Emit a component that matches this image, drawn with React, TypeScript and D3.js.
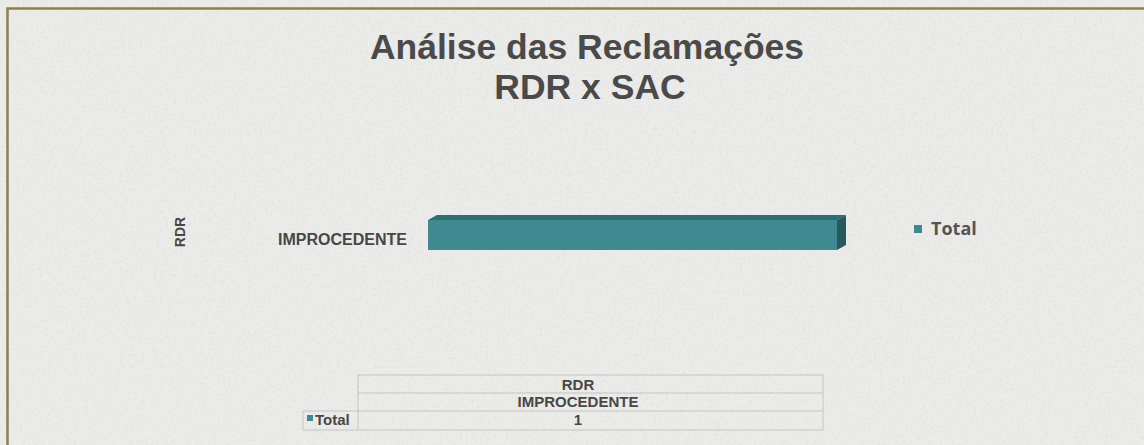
import React from "react";
import * as d3 from "d3";

const title1 = "Análise das Reclamações";
const title2 = "RDR x SAC";
const groupLabels = ["RDR"];
const categories = ["IMPROCEDENTE"];
const seriesName = "Total";
const values = [1];

const W = 1144;
const H = 445;

export default function App() {
  const x = d3.scaleLinear().domain([0, 1]).range([428, 837]);
  const y = d3.scaleBand<string>().domain(categories).range([190, 280]).paddingInner(0.3).paddingOuter(0.35);
  const depthX = 9;
  const depthY = 5;
  const bars = categories.map((c, i) => {
    const x0 = x(0);
    const x1 = x(values[i]);
    const y0 = y(c)! + (y.bandwidth() - 30) / 2;
    const h = 30;
    return { c, x0, x1, y0, h };
  });
  const tableLeft = 358;
  const tableRight = 823;
  const rowYs = [375, 393, 411, 430];
  const labelLeft = 303;
  const textColor = "#474747";
  const tcx = 578;
  return (
    <svg width={W} height={H} style={{ position: "absolute", left: 0, top: 0 }}>
      <defs>
        <filter id="paper" x="0" y="0" width="100%" height="100%">
          <feTurbulence type="fractalNoise" baseFrequency="0.35" numOctaves="3" seed="4" result="n" />
          <feColorMatrix type="matrix" values="0 0 0 0 0.55  0 0 0 0 0.55  0 0 0 0 0.55  0 0 0 -1.4 0.75" />
        </filter>
      </defs>
      <rect x={0} y={0} width={W} height={H} fill="#ebebe9" />
      <rect x={0} y={0} width={W} height={H} filter="url(#paper)" opacity={0.35} />
      {/* border */}
      <rect x={7.5} y={8.5} width={W + 20} height={H + 20} fill="none" stroke="#8d7f4f" strokeWidth={2.5} />
      <rect x={9.5} y={10.5} width={W + 20} height={H + 20} fill="none" stroke="#f2ebcf" strokeWidth={1} />
      {/* title */}
      <text x={587} y={59} textAnchor="middle" fontFamily="Liberation Sans, Arial, sans-serif" fontWeight="bold" fontSize={35.5} fill="#4a4a4a">{title1}</text>
      <text x={590} y={99} textAnchor="middle" fontFamily="Liberation Sans, Arial, sans-serif" fontWeight="bold" fontSize={35.5} fill="#4a4a4a">{title2}</text>
      {/* group axis label */}
      <text transform={`translate(185,232) rotate(-90)`} textAnchor="middle" fontFamily="Liberation Sans, Arial, sans-serif" fontWeight="bold" fontSize={14} fill={textColor}>{groupLabels[0]}</text>
      {/* category labels */}
      {categories.map((c) => (
        <text key={c} x={407} y={y(c)! + y.bandwidth() / 2 + 10} textAnchor="end" fontFamily="Liberation Sans, Arial, sans-serif" fontWeight="bold" fontSize={16} fill={textColor}>{c}</text>
      ))}
      {/* bars */}
      {bars.map((b) => (
        <g key={b.c}>
          <path d={`M${b.x0},${b.y0} L${b.x0 + depthX},${b.y0 - depthY} L${b.x1 + depthX},${b.y0 - depthY} L${b.x1},${b.y0} Z`} fill="#2f6d72" />
          <path d={`M${b.x1},${b.y0} L${b.x1 + depthX},${b.y0 - depthY} L${b.x1 + depthX},${b.y0 + b.h - depthY} L${b.x1},${b.y0 + b.h} Z`} fill="#275a5e" />
          <rect x={b.x0} y={b.y0} width={b.x1 - b.x0} height={b.h} fill="#3f8990" />
        </g>
      ))}
      {/* legend */}
      <rect x={914} y={225} width={8} height={8} fill="#3f8990" />
      <text x={931} y={235} fontFamily="Open Sans, Noto Sans, sans-serif" fontWeight="bold" fontSize={18} fill="#555">{seriesName}</text>
      {/* data table */}
      <g fontFamily="Liberation Sans, Arial, sans-serif" fontWeight="bold" fontSize={15} fill={textColor}>
        <rect x={tableLeft} y={rowYs[0]} width={tableRight - tableLeft} height={rowYs[3] - rowYs[0]} fill="none" stroke="#c4c4c2" strokeWidth={1} />
        <line x1={tableLeft} x2={tableRight} y1={rowYs[1]} y2={rowYs[1]} stroke="#c4c4c2" />
        <line x1={labelLeft} x2={tableRight} y1={rowYs[2]} y2={rowYs[2]} stroke="#c4c4c2" />
        <line x1={labelLeft} x2={labelLeft} y1={rowYs[2]} y2={rowYs[3]} stroke="#c4c4c2" />
        <line x1={labelLeft} x2={tableLeft} y1={rowYs[3]} y2={rowYs[3]} stroke="#c4c4c2" />
        <text x={tcx} y={390} textAnchor="middle">{groupLabels[0]}</text>
        <text x={tcx} y={407} textAnchor="middle">{categories[0]}</text>
        <rect x={307} y={415} width={6} height={6} fill="#3f8990" />
        <text x={315} y={425}>{seriesName}</text>
        <text x={tcx} y={425} textAnchor="middle">{values[0]}</text>
      </g>
    </svg>
  );
}
